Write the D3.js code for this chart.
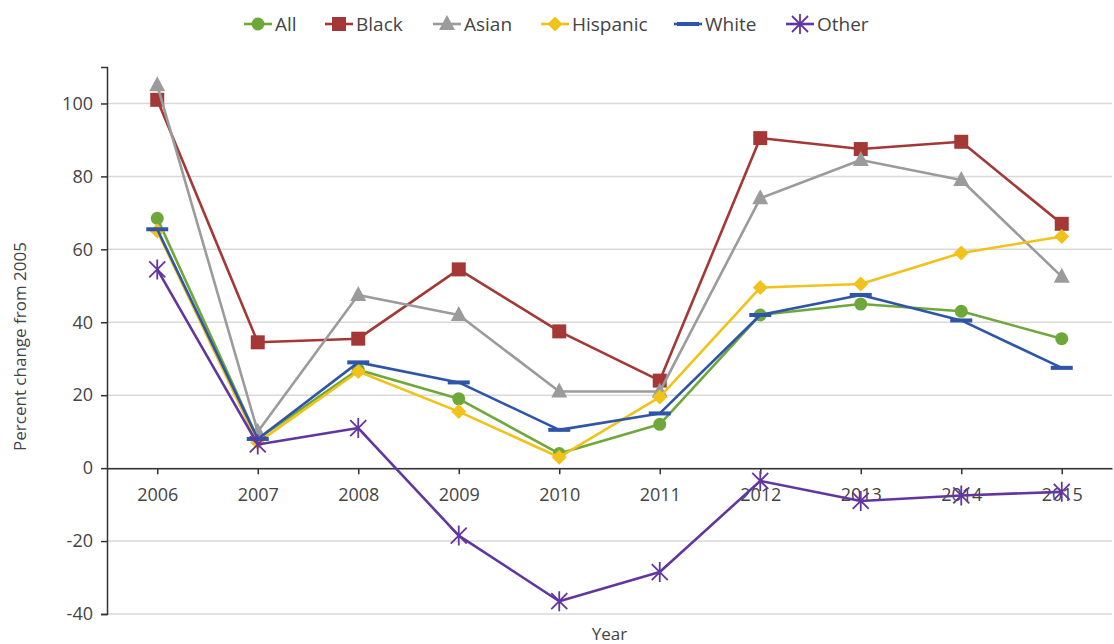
<!DOCTYPE html>
<html>
<head>
<meta charset="utf-8">
<script src="https://cdn.jsdelivr.net/npm/d3@7"></script>
<style>
  body { margin: 0; background: #fff; }
  text { font-family: "Open Sans", "Noto Sans", sans-serif; fill: #444; }
</style>
</head>
<body>
<svg id="chart"></svg>
<script>
const years = ['2006', '2007', '2008', '2009', '2010', '2011', '2012', '2013', '2014', '2015'];
const yTicks = [-40, -20, 0, 20, 40, 60, 80, 100];

const allVals = [68.5, 8, 27, 19, 4, 12, 42, 45, 43, 35.5];
const blackVals = [101, 34.5, 35.5, 54.5, 37.5, 24, 90.5, 87.5, 89.5, 67];
const asianVals = [105, 10, 47.5, 42, 21, 21, 74, 84.5, 79, 52.5];
const hispanicVals = [65, 7, 26.5, 15.5, 3, 19.5, 49.5, 50.5, 59, 63.5];
const whiteVals = [65.5, 8, 29, 23.5, 10.5, 15, 42, 47.5, 40.5, 27.5];
const otherVals = [54.5, 6.5, 11, -18.5, -36.5, -28.5, -3.5, -9, -7.5, -6.5];

const series = [
  { name: 'All', values: allVals, color: '#6fa83a', marker: 'circle' },
  { name: 'Black', values: blackVals, color: '#a33836', marker: 'square' },
  { name: 'Asian', values: asianVals, color: '#9b9b9b', marker: 'triangle' },
  { name: 'Hispanic', values: hispanicVals, color: '#f0c21a', marker: 'diamond' },
  { name: 'White', values: whiteVals, color: '#2e55a8', marker: 'dash' },
  { name: 'Other', values: otherVals, color: '#6236a0', marker: 'star' },
];

const width = 1114;
const height = 644;
const margin = { left: 107, right: 2, top: 67, bottom: 30 };

const svg = d3.select('#chart')
  .attr('width', width)
  .attr('height', height);

const x = d3.scalePoint()
  .domain(years)
  .range([margin.left, width - margin.right])
  .padding(0.5);

const y = d3.scaleLinear()
  .domain([-40, 110])
  .range([614, margin.top]);

// gridlines
svg.append('g')
  .selectAll('line')
  .data(yTicks)
  .join('line')
  .attr('x1', margin.left)
  .attr('x2', width - margin.right)
  .attr('y1', (d) => y(d))
  .attr('y2', (d) => y(d))
  .attr('stroke', '#d9d9d9')
  .attr('stroke-width', 1.5);

// y axis (plain hyphen for negatives, like the original)
const yAxis = svg.append('g')
  .attr('transform', `translate(${margin.left},0)`)
  .call(d3.axisLeft(y).tickValues(yTicks).tickSize(6).tickPadding(8)
    .tickFormat((d) => String(d)));
yAxis.select('.domain').attr('stroke', '#333').attr('stroke-width', 1.5);
yAxis.selectAll('.tick line').attr('stroke', '#333').attr('stroke-width', 1.5);
yAxis.selectAll('text').style('font-size', '18px').attr('fill', '#444');

// x axis on zero line
const xAxis = svg.append('g')
  .attr('transform', `translate(0,${y(0)})`)
  .call(d3.axisBottom(x).tickSize(6).tickPadding(14).tickSizeOuter(0));
xAxis.select('.domain').attr('stroke', '#333').attr('stroke-width', 1.5);
xAxis.selectAll('.tick line').attr('stroke', '#333').attr('stroke-width', 1.5);
xAxis.selectAll('text').style('font-size', '18px').attr('fill', '#444');

// axis titles
svg.append('text')
  .attr('x', (margin.left + width - margin.right) / 2)
  .attr('y', 640)
  .attr('text-anchor', 'middle')
  .style('font-size', '17px')
  .text('Year');

svg.append('text')
  .attr('transform', `translate(26,${(y(110) + y(-40)) / 2 + 6}) rotate(-90)`)
  .attr('text-anchor', 'middle')
  .style('font-size', '17px')
  .text('Percent change from 2005');

function drawMarker(g, type, color) {
  if (type === 'circle') {
    g.append('circle').attr('r', 6.5).attr('fill', color);
  } else if (type === 'square') {
    g.append('rect').attr('x', -7).attr('y', -7).attr('width', 14).attr('height', 14)
      .attr('fill', color);
  } else if (type === 'triangle') {
    g.append('path').attr('d', 'M0,-9L8,6L-8,6Z').attr('fill', color);
  } else if (type === 'diamond') {
    g.append('path').attr('d', 'M0,-7.5L7.5,0L0,7.5L-7.5,0Z').attr('fill', color);
  } else if (type === 'dash') {
    g.append('rect').attr('x', -11).attr('y', -2).attr('width', 22).attr('height', 4)
      .attr('fill', color);
  } else if (type === 'star') {
    g.append('path').attr('d', 'M-8,-8L8,8M-8,8L8,-8M0,-10L0,10')
      .attr('stroke', color).attr('stroke-width', 1.8).attr('fill', 'none');
  }
}

const line = d3.line()
  .x((d, i) => x(years[i]))
  .y((d) => y(d));

series.forEach((s) => {
  const g = svg.append('g');
  g.append('path')
    .datum(s.values)
    .attr('d', line)
    .attr('fill', 'none')
    .attr('stroke', s.color)
    .attr('stroke-width', 2.6)
    .attr('stroke-linejoin', 'round');
  s.values.forEach((v, i) => {
    const m = g.append('g').attr('transform', `translate(${x(years[i])},${y(v)})`);
    drawMarker(m, s.marker, s.color);
  });
});

// legend
const legendX = [244, 325, 433, 541, 674, 786];
series.forEach((s, i) => {
  const lg = svg.append('g').attr('transform', `translate(${legendX[i]},24)`);
  lg.append('line')
    .attr('x1', 0).attr('x2', 28)
    .attr('stroke', s.color).attr('stroke-width', 2.6);
  const m = lg.append('g').attr('transform', 'translate(14,0)');
  drawMarker(m, s.marker, s.color);
  lg.append('text')
    .attr('x', 31)
    .attr('y', 7)
    .style('font-size', '19px')
    .text(s.name);
});
</script>
</body>
</html>
